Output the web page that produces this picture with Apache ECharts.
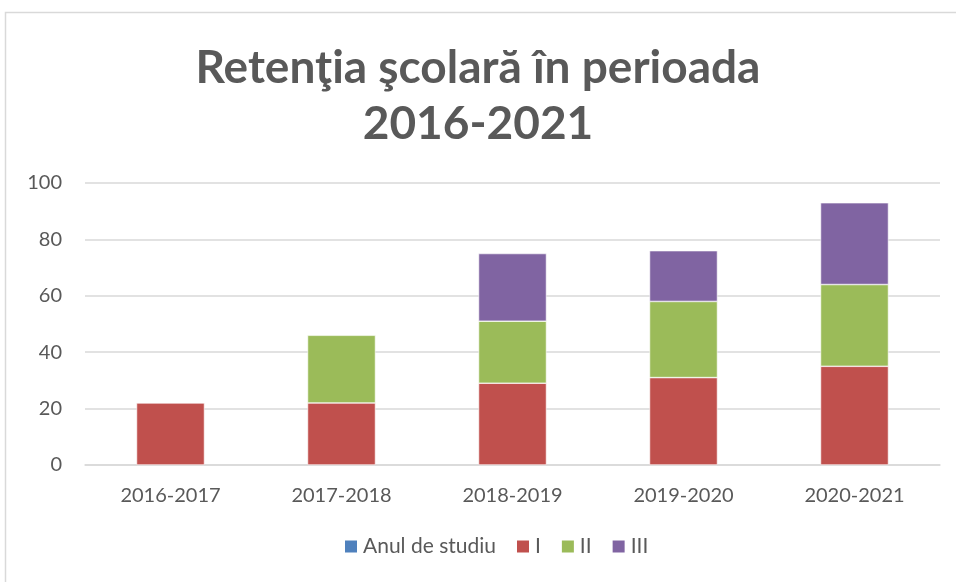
<!DOCTYPE html>
<html>
<head>
<meta charset="utf-8">
<script src="https://cdn.jsdelivr.net/npm/echarts@6/dist/echarts.min.js"></script>
<style>
  html, body { margin: 0; padding: 0; background: #fff; }
  #chart { width: 956px; height: 582px; }
</style>
</head>
<body>
<div id="chart"></div>
<script>
const categories = ['2016-2017', '2017-2018', '2018-2019', '2019-2020', '2020-2021']
const anulDeStudiu = ['-', '-', '-', '-', '-']
const anulI = [22, 22, 29, 31, 35]
const anulII = ['-', 24, 22, 27, 29]
const anulIII = ['-', '-', 24, 18, 29]
const yTicks = [0, 20, 40, 60, 80, 100]

const textColor = '#595959'
const font = 'Lato, "Open Sans", sans-serif'

const chart = echarts.init(document.getElementById('chart'))

function barSeries (name, data, color) {
  return {
    name: name,
    type: 'bar',
    stack: 'total',
    barWidth: 68,
    data: data,
    itemStyle: { color: color, borderColor: '#fff', borderWidth: 0.6 },
    emphasis: { disabled: true }
  }
}

chart.setOption({
  animation: false,
  backgroundColor: '#fff',
  title: {
    text: 'Retenţia şcolară în perioada\n2016-2021',
    left: 'center',
    top: 35,
    textStyle: {
      color: textColor,
      fontFamily: font,
      fontWeight: 'bold',
      fontSize: 46,
      lineHeight: 56
    }
  },
  graphic: [
    {
      type: 'rect',
      shape: { x: 5.5, y: 12.5, width: 960, height: 600 },
      style: { fill: 'none', stroke: '#d9d9d9', lineWidth: 1.5 },
      silent: true
    }
  ],
  legend: {
    bottom: 20,
    left: 338,
    itemWidth: 14,
    itemHeight: 14,
    itemGap: 19,
    icon: 'rect',
    textStyle: { color: textColor, fontFamily: font, fontSize: 21 },
    data: ['Anul de studiu', 'I', 'II', 'III']
  },
  grid: { left: 85, right: 16, top: 183, bottom: 117 },
  xAxis: {
    type: 'category',
    data: categories,
    axisLine: { lineStyle: { color: '#d9d9d9', width: 1.5 } },
    axisTick: { show: false },
    axisLabel: { color: textColor, fontFamily: font, fontSize: 20, margin: 21 }
  },
  yAxis: {
    type: 'value',
    min: yTicks[0],
    max: yTicks[yTicks.length - 1],
    interval: 20,
    axisLine: { show: false },
    axisTick: { show: false },
    splitLine: { lineStyle: { color: '#d9d9d9', width: 1.5 } },
    axisLabel: { color: textColor, fontFamily: font, fontSize: 20, margin: 23 }
  },
  series: [
    barSeries('Anul de studiu', anulDeStudiu, '#4F81BD'),
    barSeries('I', anulI, '#C0504D'),
    barSeries('II', anulII, '#9BBB59'),
    barSeries('III', anulIII, '#8064A2')
  ]
})
</script>
</body>
</html>
